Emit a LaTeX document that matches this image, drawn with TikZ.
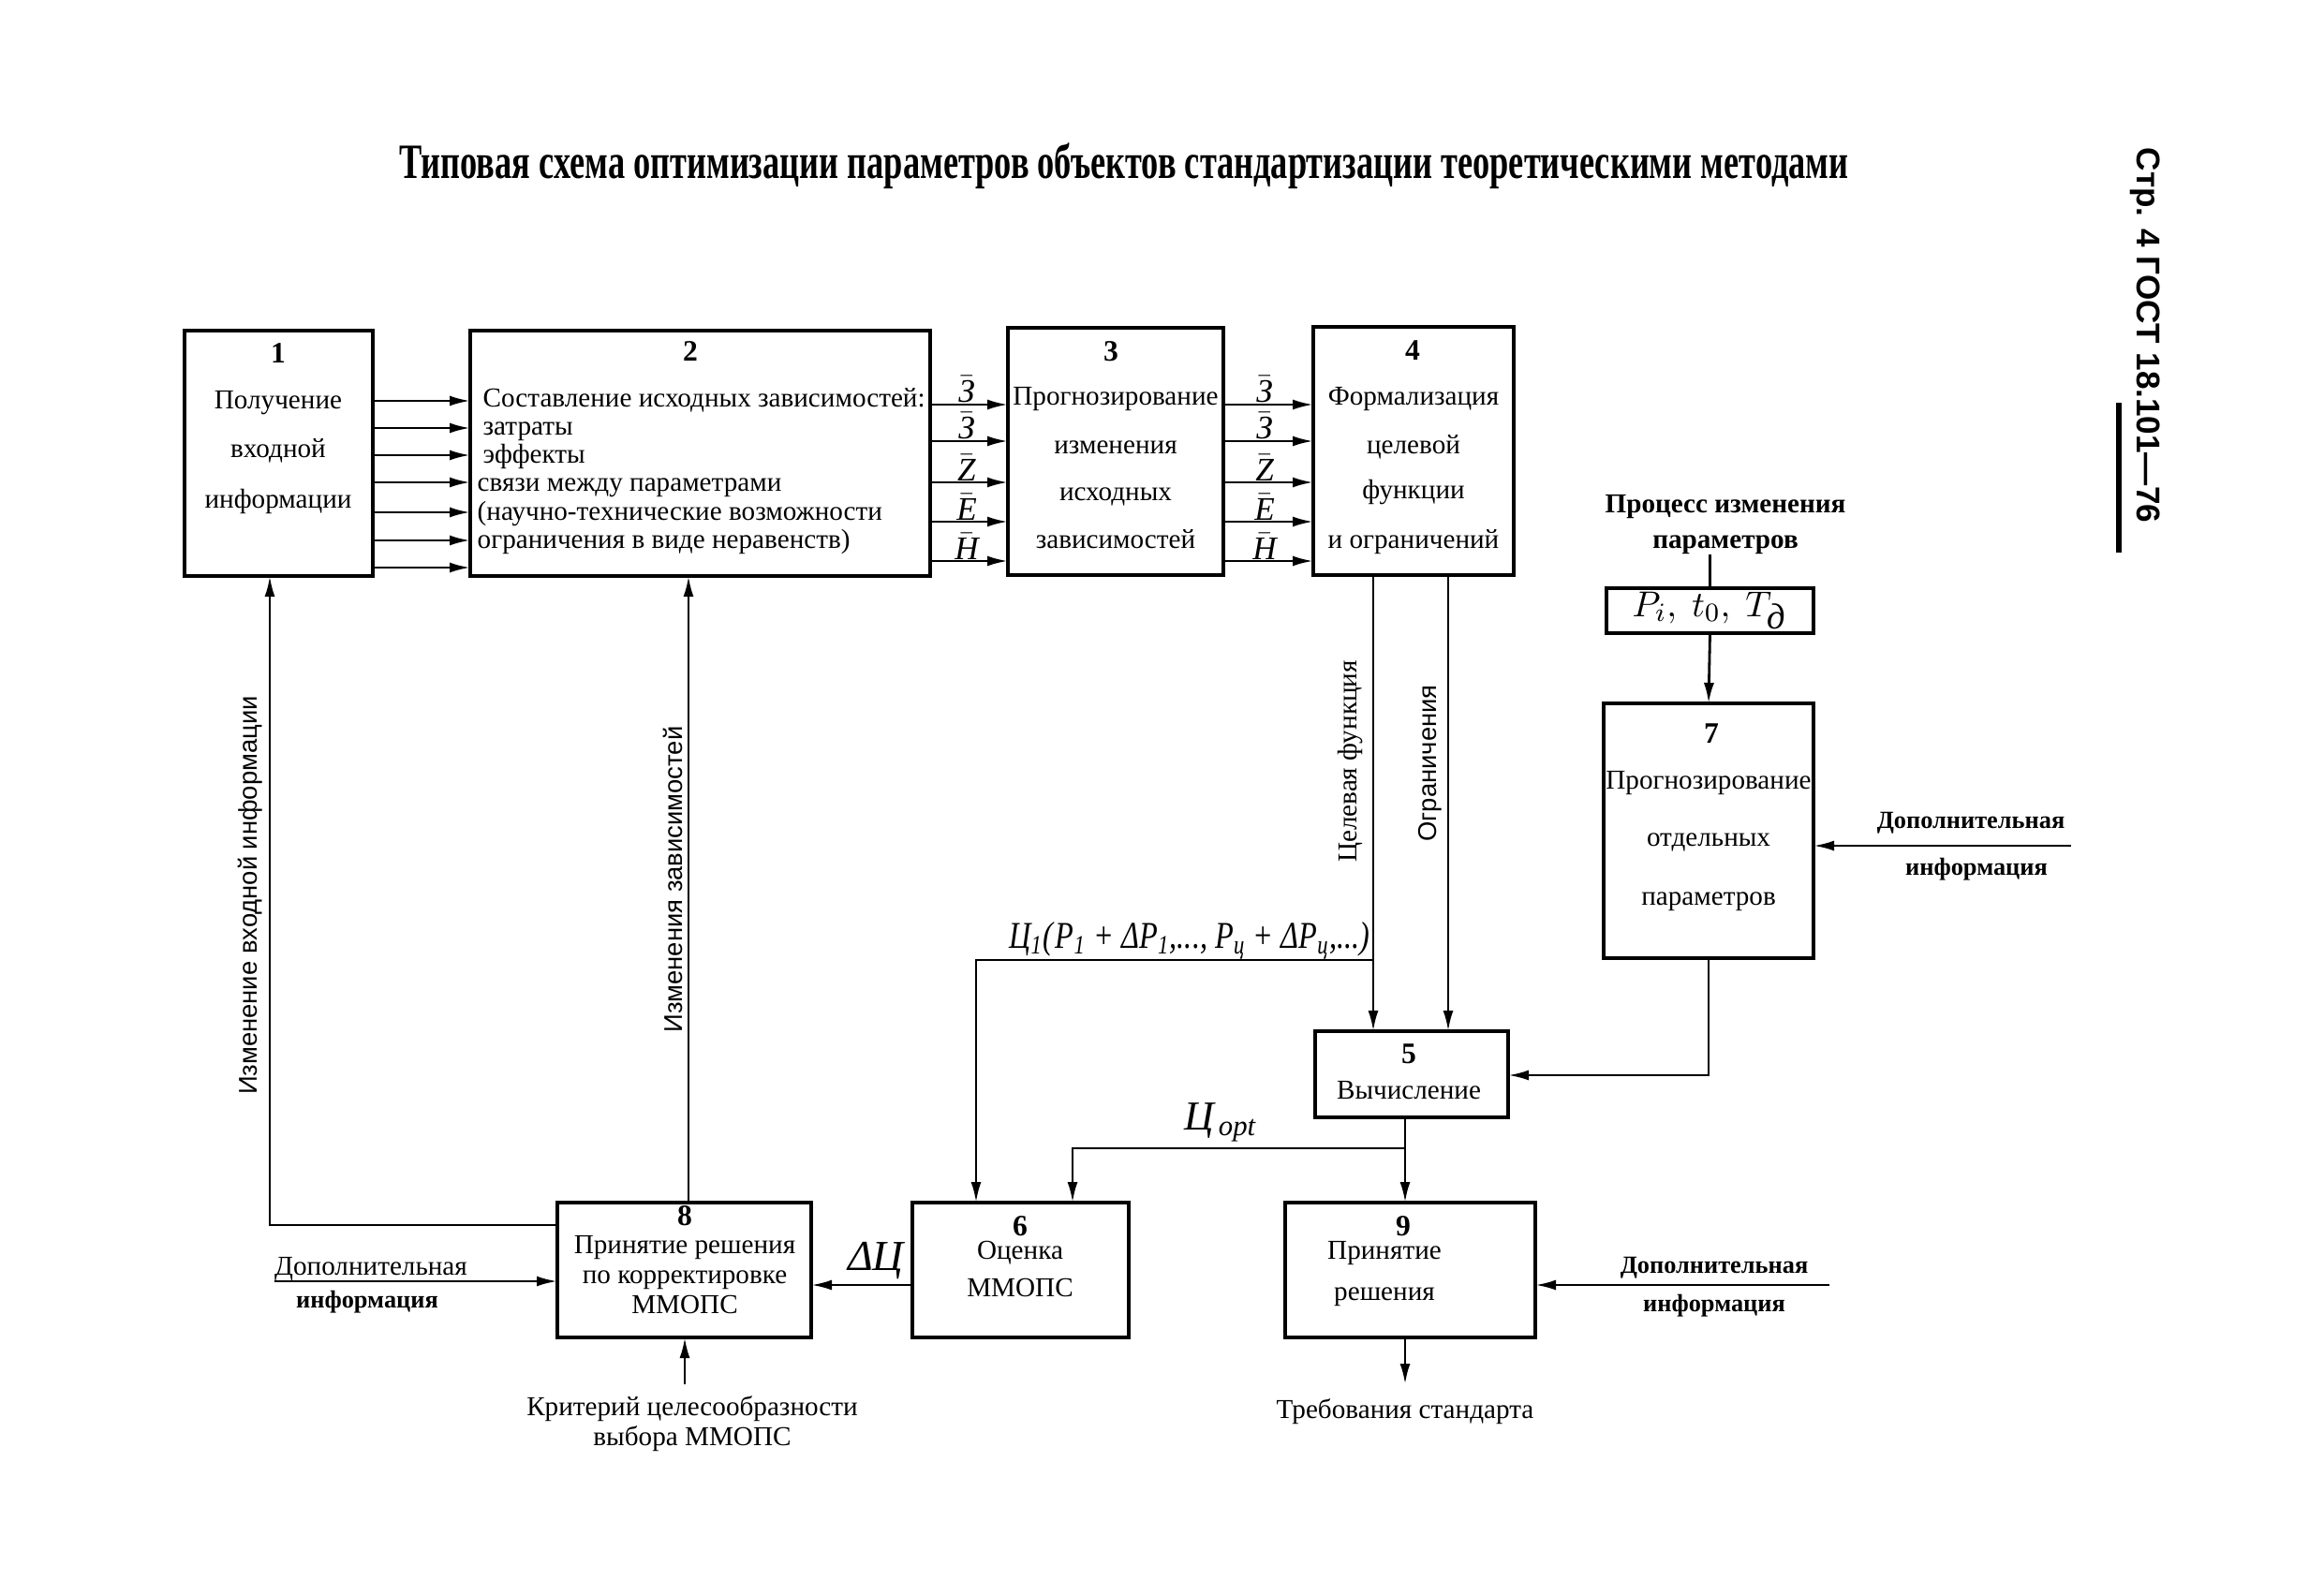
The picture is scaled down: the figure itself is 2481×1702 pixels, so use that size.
\documentclass[tikz,border=0pt]{standalone}
\usepackage{fontspec}
\setmainfont{Liberation Serif}
\setsansfont{Liberation Sans}
\usetikzlibrary{arrows.meta}
\newcommand\cyi[1]{\mbox{\itshape #1}}
\newcommand\barlab[1]{$\bar{\mbox{\itshape #1}}$}
\begin{document}
\begin{tikzpicture}[x=0.1mm,y=-0.1mm,
  box/.style={draw, line width=1.3pt, inner sep=0pt, outer sep=0pt},
  arr/.style={line width=0.8pt, -{Latex[length=2.2mm,width=1.1mm]}},
  ln/.style={line width=0.8pt},
  txt/.style={inner sep=0pt, anchor=mid, font=\fontsize{8.3}{10}\selectfont},
  btxt/.style={txt, font=\fontsize{7.5}{9}\selectfont\bfseries},
  vlab/.style={inner sep=0pt, rotate=90, font=\sffamily\fontsize{7.8}{9}\selectfont},
  vlabs/.style={inner sep=0pt, rotate=90, font=\fontsize{8.3}{10}\selectfont},
  mlab/.style={inner sep=0.3pt, anchor=south, font=\fontsize{10}{12}\selectfont},
  num/.style={txt, font=\fontsize{9}{11}\selectfont\bfseries}
]
\useasboundingbox (0,0) rectangle (2481,1702);

% title
\node[inner sep=0pt, anchor=mid] (title) at (1200,182)
  {\scalebox{0.69}[1]{\fontsize{15}{17}\selectfont\bfseries Типовая схема оптимизации параметров объектов стандартизации теоретическими методами}};
\node[inner sep=0pt, rotate=-90, font=\sffamily\bfseries\fontsize{10}{12}\selectfont] (gost) at (2290,358) {Стр. 4 ГОСТ 18.101—76};
\coordinate (barT) at (2262,430);
\coordinate (barB) at (2262,590);
\draw[line width=1.6pt] (barT) -- (barB);

% boxes
\node[box, minimum width=20.1mm, minimum height=26.2mm] (b1) at (297.5,484) {};
\node[box, minimum width=49.1mm, minimum height=26.2mm] (b2) at (747.5,484) {};
\node[box, minimum width=23.0mm, minimum height=26.4mm] (b3) at (1191,482) {};
\node[box, minimum width=21.4mm, minimum height=26.5mm] (b4) at (1509,481.5) {};
\node[box, minimum width=22.1mm, minimum height=4.8mm] (bp) at (1825.5,652) {};
\node[box, minimum width=22.4mm, minimum height=27.2mm] (b7) at (1824,887) {};
\node[box, minimum width=20.6mm, minimum height=9.2mm] (b5) at (1507,1147) {};
\node[box, minimum width=27.1mm, minimum height=14.4mm] (b8) at (730.5,1356) {};
\node[box, minimum width=23.1mm, minimum height=14.4mm] (b6) at (1089.5,1356) {};
\node[box, minimum width=26.7mm, minimum height=14.4mm] (b9) at (1505.5,1356) {};

% box texts
\node[num] (n1) at (297,379) {1};
\node[txt] (t1a) at (297,428) {Получение};
\node[txt] (t1b) at (297,480) {входной};
\node[txt] (t1c) at (297,534) {информации};

\node[num] (n2) at (737,377) {2};
\node[txt, anchor=mid west] (t2a) at (515,426) {Составление исходных зависимостей:};
\node[txt, anchor=mid west] (t2b) at (515,456) {затраты};
\node[txt, anchor=mid west] (t2c) at (515,486) {эффекты};
\node[txt, anchor=mid west] (t2d) at (509,516) {связи между параметрами};
\node[txt, anchor=mid west] (t2e) at (509,547) {(научно-технические возможности};
\node[txt, anchor=mid west] (t2f) at (509,577) {ограничения в виде неравенств)};

\node[num] (n3) at (1186,377) {3};
\node[txt] (t3a) at (1191,424) {Прогнозирование};
\node[txt] (t3b) at (1191,476) {изменения};
\node[txt] (t3c) at (1191,526) {исходных};
\node[txt] (t3d) at (1191,577) {зависимостей};

\node[num] (n4) at (1508,376) {4};
\node[txt] (t4a) at (1509,424) {Формализация};
\node[txt] (t4b) at (1509,476) {целевой};
\node[txt] (t4c) at (1509,524) {функции};
\node[txt] (t4d) at (1509,577) {и ограничений};

\node[btxt, font=\fontsize{8.3}{10}\selectfont\bfseries] (tpa) at (1842,539) {Процесс изменения};
\node[btxt, font=\fontsize{8.3}{10}\selectfont\bfseries] (tpb) at (1842,577) {параметров};
\node[inner sep=0pt, anchor=mid, font=\fontsize{11}{13}\selectfont] (tp) at (1825,650) {$P_i,\ t_0,\ T_{\cyi{д}}$};

\node[num] (n7) at (1827,785) {7};
\node[txt] (t7a) at (1824,834) {Прогнозирование};
\node[txt] (t7b) at (1824,895) {отдельных};
\node[txt] (t7c) at (1824,958) {параметров};

\node[num] (n5) at (1504,1127) {5};
\node[txt] (t5a) at (1504,1165) {Вычисление};

\node[num] (n6) at (1089,1311) {6};
\node[txt] (t6a) at (1089,1336) {Оценка};
\node[txt] (t6b) at (1089,1376) {ММОПС};

\node[num] (n8) at (731,1300) {8};
\node[txt] (t8a) at (731,1330) {Принятие решения};
\node[txt] (t8b) at (731,1362) {по корректировке};
\node[txt] (t8c) at (731,1394) {ММОПС};

\node[num] (n9) at (1498,1311) {9};
\node[txt] (t9a) at (1478,1336) {Принятие};
\node[txt] (t9b) at (1478,1380) {решения};

% external texts
\node[btxt] (d7a) at (2104,876) {Дополнительная};
\node[btxt] (d7b) at (2110,926) {информация};
\node[txt] (d8a) at (396,1353) {Дополнительная};
\node[btxt] (d8b) at (392,1388) {информация};
\node[btxt] (d9a) at (1830,1351) {Дополнительная};
\node[btxt] (d9b) at (1830,1392) {информация};
\node[txt] (kr1) at (739,1503) {Критерий целесообразности};
\node[txt] (kr2) at (739,1535) {выбора ММОПС};
\node[txt] (treb) at (1500,1506) {Требования стандарта};

\node[vlab] (vl1) at (267,956) {Изменение входной информации};
\node[vlab] (vl2) at (718,939) {Изменения зависимостей};
\node[vlabs] (vl3) at (1442,813) {Целевая функция};
\node[vlab] (vl4) at (1527,815) {Ограничения};

\node[inner sep=0pt, anchor=base east] (form) at (1463,1012)
  {\scalebox{0.8}[1]{\fontsize{11.5}{14}\selectfont\itshape Ц\textsubscript{1}(\kern1pt P\textsubscript{1} + ΔP\textsubscript{1},..., P\textsubscript{ц} + ΔP\textsubscript{ц},...)}};
\node[inner sep=0pt, anchor=mid, font=\fontsize{13}{15}\selectfont\itshape] (dc) at (935,1348) {ΔЦ};
\node[inner sep=0pt, anchor=mid, font=\fontsize{12.5}{14}\selectfont\itshape] (copt) at (1303,1198) {Ц\textsubscript{\,opt}};

% arrows 1 -> 2
\foreach \yy in {428,457,486,515,547,577,606}
  \draw[arr] (b1.east |- 0,\yy) -- (b2.west |- 0,\yy);

% arrows 2 -> 3 and 3 -> 4 with labels
\foreach \yy/\lab in {432/З,471/З,515/Z,557/E,599/H} {
  \draw[arr] (b2.east |- 0,\yy) -- (b3.west |- 0,\yy);
  \draw[arr] (b3.east |- 0,\yy) -- (b4.west |- 0,\yy);
  \node[mlab] at (1032,\yy) {\barlab{\lab}};
  \node[mlab] at (1350,\yy) {\barlab{\lab}};
}

% 4 -> 5
\coordinate (j1) at (1466,1025);
\draw[arr] (b4.south -| 1466,0) -- (b5.north -| 1466,0);
\draw[arr] (b4.south -| 1546,0) -- (b5.north -| 1546,0);
% objective function to 6
\coordinate (j2) at (1042,1025);
\draw[arr] (j1) -- (j2) -- (b6.north -| j2);

% parameter process
\draw[ln] (tpb.south -| bp.north) -- (bp.north);
\draw[arr] (bp.south) -- (b7.north);
\coordinate (a7) at (2211,903);
\draw[arr] (a7) -- (b7.east |- a7);

% 7 -> 5
\coordinate (j3) at (1824,1148);
\draw[arr] (b7.south) -- (j3) -- (b5.east |- j3);

% 5 -> 9 and 6
\coordinate (j4) at (1500,1226);
\coordinate (j5) at (1145,1226);
\draw[arr] (b5.south -| j4) -- (b9.north -| j4);
\draw[arr] (j4) -- (j5) -- (b6.north -| j5);

% 6 -> 8
\draw[arr] (b6.west |- 0,1372) -- (b8.east |- 0,1372);
% additional info to 8 and 9
\coordinate (a8) at (293,1368);
\draw[arr] (a8) -- (b8.west |- a8);
\coordinate (a9) at (1953,1372);
\draw[arr] (a9) -- (b9.east |- a9);
% criterion to 8
\coordinate (kc) at (731,1478);
\draw[arr] (kc) -- (b8.south -| kc);
% 9 -> requirements
\coordinate (rq) at (1500,1478);
\draw[arr] (b9.south -| rq) -- (rq);

% feedback 8 -> 1 and 8 -> 2
\coordinate (f1) at (288,1308);
\draw[arr] (b8.west |- f1) -- (f1) -- (b1.south -| f1);
\draw[arr] (b8.north -| 735,0) -- (b2.south -| 735,0);
\end{tikzpicture}
\end{document}
